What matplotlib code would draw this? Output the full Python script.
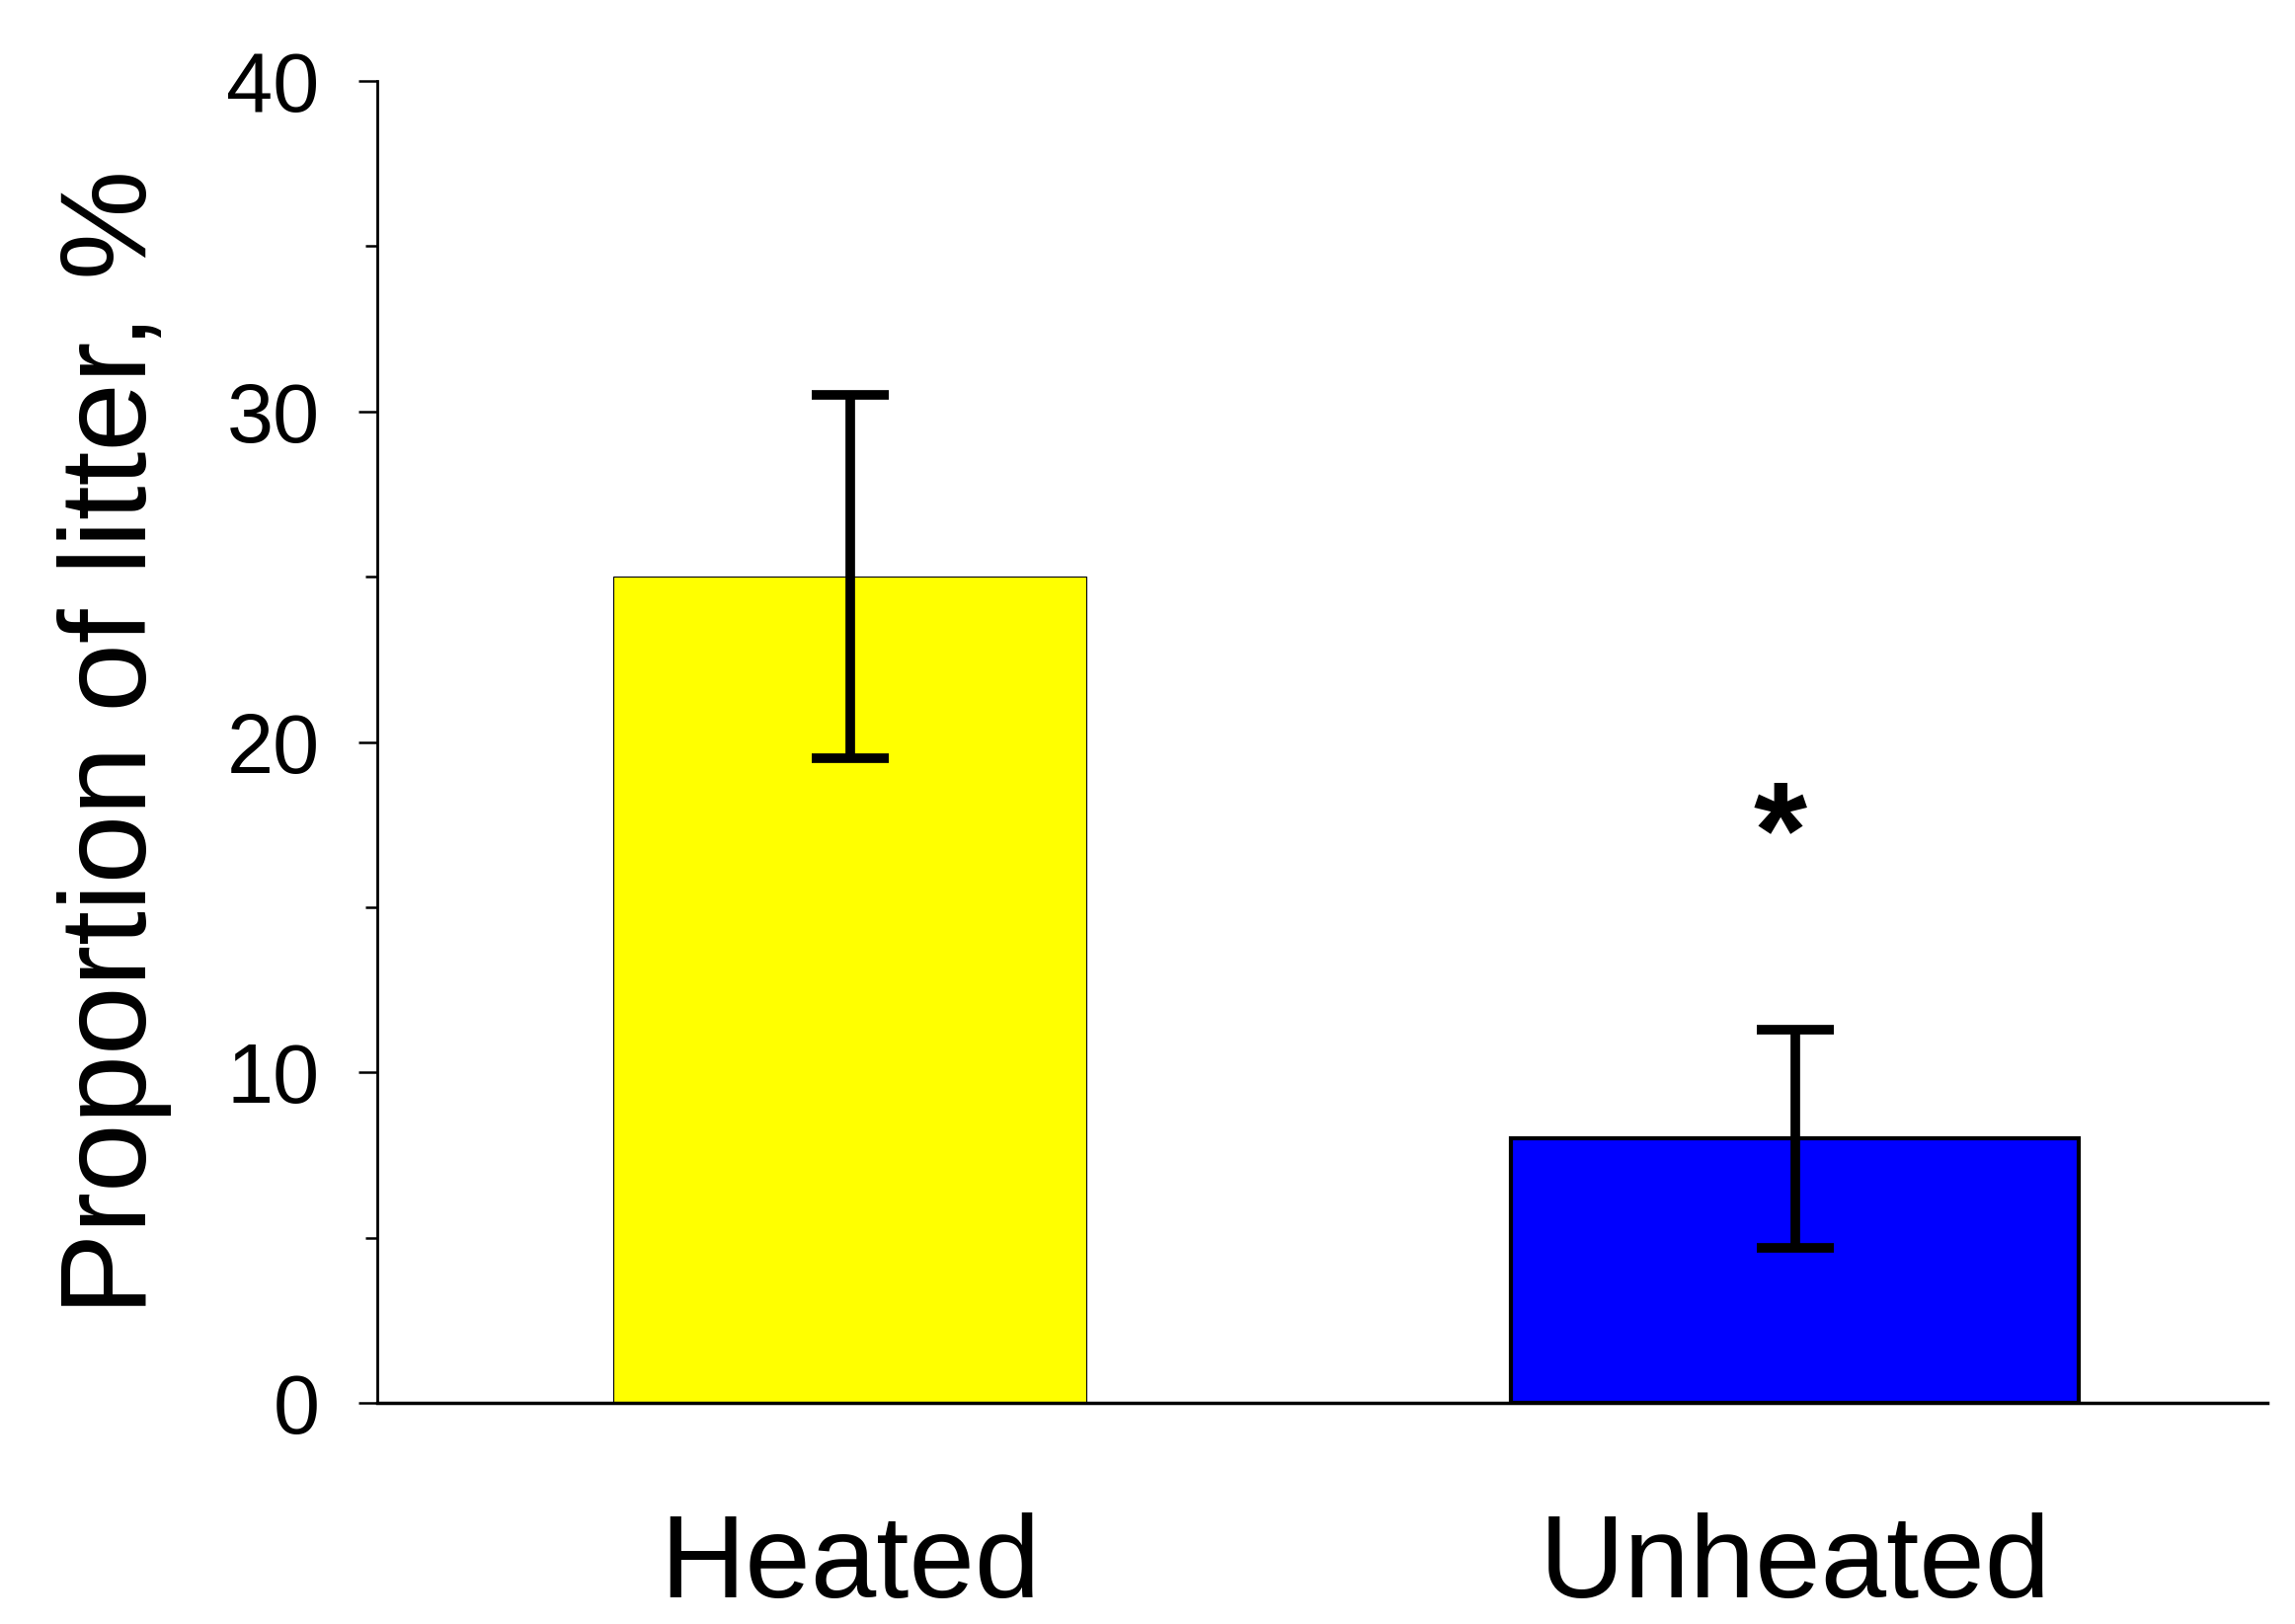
import numpy as np
import matplotlib
matplotlib.use('Agg')
import matplotlib.pyplot as plt
from matplotlib.ticker import MultipleLocator

#--------------------------------------------------------------data

groups = ['Heated', 'Unheated']
means = [25.0, 8.0]
errors = [5.5, 3.3]
bar_colors = ['#ffff00', '#0000ff']
bar_pos = [0.25, 0.75]
bar_width = [0.25, 0.30]
y_ticks = [0, 10, 20, 30, 40]

#--------------------------------------------------------------plot

plt.rcParams['font.family'] = ['Liberation Sans', 'DejaVu Sans']

fig = plt.figure(figsize=(23.24, 16.45), dpi=100)
ax = fig.add_axes([382/2324, 1-1421/1645, (2296-382)/2324, (1421-82)/1645])

edge_w = [0.8, 3.0]
for i in range(len(groups)):
  ax.bar(bar_pos[i], means[i], width=bar_width[i], color=bar_colors[i],
         edgecolor='black', linewidth=edge_w[i], zorder=2)
ax.errorbar(bar_pos, means, yerr=errors, fmt='none', ecolor='black',
            elinewidth=7, capsize=28, capthick=7, zorder=3)

# significance mark
ax.text(bar_pos[1]-0.008, 17.0, '*', fontsize=100, fontweight='bold',
        ha='center', va='center')

ax.set_xlim(0, 1)
ax.set_ylim(0, 40)
ax.set_xticks(bar_pos)
ax.set_xticklabels(groups, fontsize=86)
ax.set_yticks(y_ticks)
ax.set_yticklabels([str(v) for v in y_ticks], fontsize=61)
ax.yaxis.set_minor_locator(MultipleLocator(5))
ax.tick_params(axis='x', length=0, pad=80)
ax.tick_params(axis='y', which='major', length=14, width=1.8, pad=28)
ax.tick_params(axis='y', which='minor', length=9, width=1.8)
ax.set_ylabel('Proportion of litter, %', fontsize=90, labelpad=40)

ax.spines['top'].set_visible(False)
ax.spines['right'].set_visible(False)
ax.spines['left'].set_linewidth(2)
ax.spines['bottom'].set_linewidth(2.5)

fig.savefig('out.png', dpi=100)
